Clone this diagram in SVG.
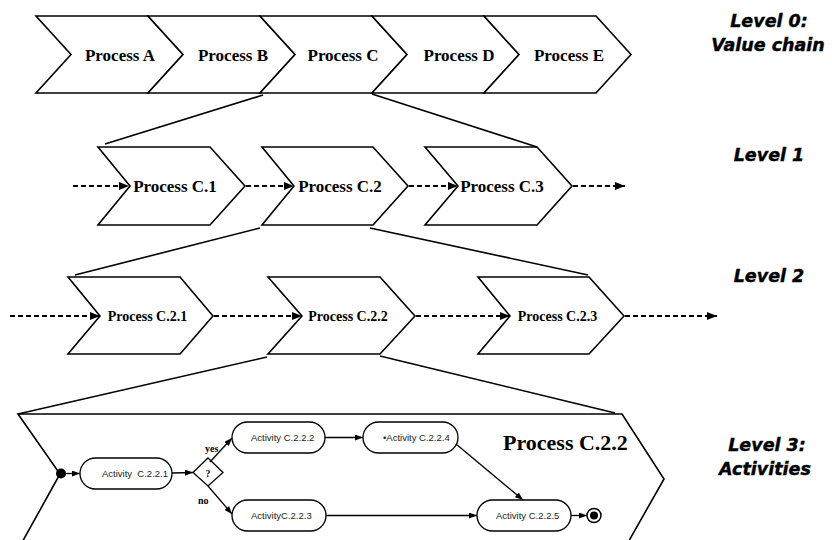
<svg xmlns="http://www.w3.org/2000/svg" width="832" height="540" viewBox="0 0 832 540">
<defs>
<marker id="ah" viewBox="0 0 10 8" refX="10" refY="4" markerWidth="10" markerHeight="8" markerUnits="userSpaceOnUse" orient="auto"><path d="M0,0 L10,4 L0,8 z" fill="#000"/></marker>
<marker id="ahs" viewBox="0 0 8 6" refX="8" refY="3" markerWidth="8" markerHeight="6" markerUnits="userSpaceOnUse" orient="auto"><path d="M0,0 L8,3 L0,6 z" fill="#000"/></marker>
<style>
.chev{fill:#fff;stroke:#000;stroke-width:1.6;stroke-linejoin:miter}
.p0{font-family:"Liberation Serif","Times New Roman",serif;font-weight:bold;font-size:17px;fill:#000;text-anchor:middle}
.p2{font-family:"Liberation Serif","Times New Roman",serif;font-weight:bold;font-size:14px;fill:#000;text-anchor:middle}
.big{font-family:"Liberation Serif","Times New Roman",serif;font-weight:bold;font-size:22px;fill:#000}
.lvl{font-family:"DejaVu Sans",Verdana,sans-serif;font-weight:bold;font-style:italic;font-size:17.5px;fill:#000;stroke:#000;stroke-width:0.4;text-anchor:middle}
.act{fill:#fff;stroke:#000;stroke-width:1.3}
.at{font-family:"Liberation Sans",Arial,sans-serif;font-size:9.5px;fill:#222;white-space:pre}
.lbl{font-family:"Liberation Serif","Times New Roman",serif;font-weight:bold;font-size:10px;fill:#000}
.zoomline{stroke:#000;stroke-width:1.6;fill:none}
.dash{stroke:#000;stroke-width:2;stroke-dasharray:5,3;fill:none;marker-end:url(#ah)}
.flow{stroke:#000;stroke-width:1.3;fill:none;marker-end:url(#ahs)}
</style>
</defs>

<!-- Level 0 -->
<g id="procA"><polygon class="chev" points="36,16 148,16 183,54.5 148,93 36,93 71,54.5"/><text class="p0" x="120" y="61">Process A</text></g>
<g id="procB"><polygon class="chev" points="148,16 260,16 295,54.5 260,93 148,93 183,54.5"/><text class="p0" x="233" y="61">Process B</text></g>
<g id="procC"><polygon class="chev" points="260,16 372,16 407,54.5 372,93 260,93 295,54.5"/><text class="p0" x="343" y="61">Process C</text></g>
<g id="procD"><polygon class="chev" points="372,16 484,16 519,54.5 484,93 372,93 407,54.5"/><text class="p0" x="459" y="61">Process D</text></g>
<g id="procE"><polygon class="chev" points="484,16 596,16 631,54.5 596,93 484,93 519,54.5"/><text class="p0" x="569" y="61">Process E</text></g>

<!-- Level 1 -->
<g id="procC1"><polygon class="chev" points="98,147 210,147 245,186 210,225 98,225 130,186"/><text class="p0" x="175" y="192">Process C.1</text></g>
<g id="procC2"><polygon class="chev" points="262,147 373,147 408,186 373,225 262,225 294,186"/><text class="p0" x="340" y="192">Process C.2</text></g>
<g id="procC3"><polygon class="chev" points="425,147 537,147 572,186 537,225 425,225 458,186"/><text class="p0" x="502" y="192">Process C.3</text></g>

<!-- Level 2 -->
<g id="procC21"><polygon class="chev" points="68,277 180,277 213,316 180,354 68,354 100,316"/><text class="p2" x="147.5" y="321">Process C.2.1</text></g>
<g id="procC22"><polygon class="chev" points="268,277 380,277 415,316 380,354 268,354 302,316"/><text class="p2" x="348" y="321">Process C.2.2</text></g>
<g id="procC23"><polygon class="chev" points="478,277 589,277 624,316 589,354 478,354 510,316"/><text class="p2" x="557.5" y="321">Process C.2.3</text></g>

<!-- Level 3 container -->
<g id="procC22detail">
<polygon class="chev" points="18,414 622,414 664,479 626,546 20,546 60,474"/>
<text class="big" x="503" y="450">Process C.2.2</text>
</g>

<!-- Level labels -->
<g id="level0"><text class="lvl" x="769" y="27">Level 0:</text><text class="lvl" x="768" y="51">Value chain</text></g>
<g id="level1"><text class="lvl" x="769" y="161">Level 1</text></g>
<g id="level2"><text class="lvl" x="769" y="282">Level 2</text></g>
<g id="level3"><text class="lvl" x="767" y="451">Level 3:</text><text class="lvl" x="765" y="475">Activities</text></g>

<!-- Level 3 activity nodes -->
<g id="start"><circle cx="61" cy="473.5" r="5" fill="#000"/></g>
<g id="act1"><rect class="act" x="80" y="458" width="92" height="31" rx="15.5"/><text class="at" x="102" y="477">Activity  C.2.2.1</text></g>
<g id="decision"><polygon class="act" points="193,472.5 208,458 223,472.5 208,486"/><text class="lbl" x="208" y="477" text-anchor="middle" font-size="11">?</text></g>
<g id="act2"><rect class="act" x="232" y="422" width="93" height="31" rx="15.5"/><text class="at" x="251" y="441">Activity C.2.2.2</text></g>
<g id="act4"><rect class="act" x="363" y="422" width="95" height="31" rx="15.5"/><text class="at" x="383" y="441">•Activity C.2.2.4</text></g>
<g id="act3"><rect class="act" x="232" y="500" width="94" height="31" rx="15.5"/><text class="at" x="251" y="519">ActivityC.2.2.3</text></g>
<g id="act5"><rect class="act" x="477" y="500" width="94" height="31" rx="15.5"/><text class="at" x="496" y="519">Activity C.2.2.5</text></g>
<g id="end"><circle cx="594" cy="515.5" r="7" fill="#fff" stroke="#000" stroke-width="1.5"/><circle cx="594" cy="515.5" r="4" fill="#000"/></g>

<!-- Connectors -->
<g id="connectors">
<line class="zoomline" x1="263" y1="95" x2="105" y2="144"/>
<line class="zoomline" x1="372" y1="94" x2="537" y2="147"/>
<line class="zoomline" x1="260" y1="228" x2="75" y2="275"/>
<line class="zoomline" x1="370" y1="228" x2="588" y2="275"/>
<line class="zoomline" x1="267" y1="357" x2="18" y2="414"/>
<line class="zoomline" x1="380" y1="356" x2="615" y2="413"/>

<line class="dash" x1="73" y1="186" x2="129" y2="186"/>
<line class="dash" x1="246" y1="186" x2="294" y2="186"/>
<line class="dash" x1="409" y1="186" x2="458" y2="186"/>
<line class="dash" x1="573" y1="186" x2="625" y2="186"/>

<line class="dash" x1="10" y1="316" x2="100" y2="316"/>
<line class="dash" x1="214" y1="316" x2="302" y2="316"/>
<line class="dash" x1="416" y1="316" x2="510" y2="316"/>
<line class="dash" x1="625" y1="316" x2="717" y2="316"/>

<line class="flow" x1="66" y1="473.5" x2="80" y2="473.5"/>
<line class="flow" x1="172" y1="473" x2="193" y2="472.5"/>
<line class="flow" x1="210" y1="462" x2="232" y2="438"/>
<line class="flow" x1="208" y1="486" x2="232" y2="514"/>
<line class="flow" x1="325" y1="437.5" x2="363" y2="437.5"/>
<line class="flow" x1="456" y1="444" x2="523" y2="500"/>
<line class="flow" x1="326" y1="515.5" x2="477" y2="515.5"/>
<line class="flow" x1="571" y1="515.5" x2="587" y2="515.5"/>

<text class="lbl" x="205" y="452">yes</text>
<text class="lbl" x="198" y="504">no</text>
</g>
</svg>
